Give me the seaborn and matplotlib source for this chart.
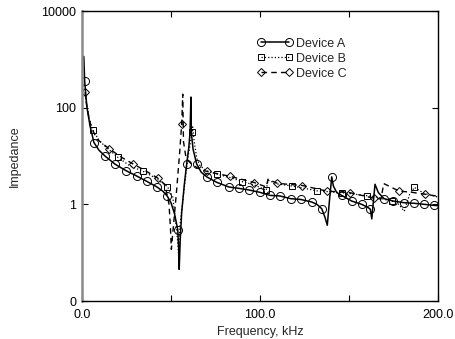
"""
Impedance vs frequency for three devices (log y axis).
"""
import matplotlib
matplotlib.use('Agg')
import matplotlib.pyplot as plt
from matplotlib.lines import Line2D
from matplotlib.ticker import FixedLocator, FixedFormatter
import seaborn as sns

# Device A (solid, circles)
freq_a = [1.0, 1.5, 2.7, 4.5, 6.7, 9.5, 12.9, 18.5, 24.6, 30.7, 36.3, 42.0, 45.5, 47.9,
          50.0, 52.0, 53.8, 54.3, 54.6, 55.2, 56.0, 57.5, 58.8, 60.0, 60.7, 61.2, 61.4,
          62.4, 64.4, 67.0, 70.1, 75.7, 82.6, 88.2, 93.8, 100.0, 105.6, 111.2, 117.2,
          122.9, 129.0, 132.0, 134.7, 136.5, 137.8, 139.0, 140.3, 141.2, 143.1, 145.9,
          151.5, 157.1, 160.5, 162.0, 162.8, 164.6, 166.5, 169.7, 174.9, 181.1, 186.7,
          192.3, 197.8, 200.0]
imp_a = [1150, 355, 107, 42, 19, 13.2, 10, 6.8, 5.0, 3.86, 3.0, 2.3, 1.86, 1.48,
         1.08, 0.63, 0.30, 0.12, 0.045, 0.19, 0.68, 2.6, 6.8, 15, 31, 166, 31,
         13.8, 6.9, 4.6, 3.7, 2.85, 2.28, 2.14, 1.98, 1.77, 1.53, 1.49, 1.31,
         1.26, 1.12, 1.0, 0.81, 0.54, 0.37, 1.17, 3.7, 2.4, 1.75, 1.53,
         1.17, 1.0, 0.87, 0.79, 0.50, 2.6, 1.75, 1.31, 1.17, 1.08, 1.05,
         1.0, 0.95, 0.94]
marks_a = [1.5, 6.7, 12.9, 18.5, 24.6, 30.7, 36.3, 42.0, 47.9, 53.8, 58.8, 64.4, 70.1,
           75.7, 82.6, 88.2, 93.8, 100.0, 105.6, 111.2, 117.2, 122.9, 129.0, 134.7,
           140.3, 145.9, 151.5, 157.1, 162.0, 169.7, 174.9, 181.1, 186.7, 192.3, 197.8]

# Device B (dotted, squares)
freq_b = [2.0, 4.0, 6.0, 10.0, 13.0, 20.0, 27.0, 34.0, 41.0, 48.0,
          51.0, 52.8, 53.9, 54.2, 55.0, 56.7, 59.3, 61.0, 62.0, 62.2,
          63.0, 64.5, 66.3, 69.7, 76.0, 83.0, 90.0, 97.0, 103.5, 104.5,
          110.0, 118.0, 125.0, 132.0, 139.0, 146.0, 153.0, 160.0, 166.0, 170.0,
          174.0, 178.0, 181.0, 184.0, 186.7, 192.0, 200.0]
imp_b = [158, 60, 34, 20.4, 15.8, 9.5, 6.2, 4.9, 3.55, 2.32,
         1.41, 0.39, 0.15, 0.10, 0.35, 1.26, 8.5, 20, 31.6, 40,
         20, 8.9, 6.3, 5.0, 4.2, 3.6, 2.95, 2.5, 1.95, 3.16,
         2.63, 2.4, 2.14, 1.9, 1.82, 1.74, 1.62, 1.51, 1.41, 1.26,
         1.17, 1.0, 0.72, 1.58, 2.24, 1.7, 1.41]
marks_b = [6.0, 20.0, 34.0, 48.0, 62.0, 76.0, 90.0, 103.5, 118.0, 132.0, 146.0,
           160.0, 174.0, 186.7]

# Device C (dashed, diamonds)
freq_c = [1.7, 3.0, 5.0, 8.3, 15.3, 22.0, 28.5, 35.5, 42.5, 46.6,
          48.9, 49.7, 50.2, 51.7, 53.2, 54.8, 56.0, 56.6, 57.0, 58.5,
          61.0, 65.0, 70.0, 83.1, 96.8, 103.5, 104.5, 109.7, 123.8, 137.5,
          150.6, 164.2, 168.0, 169.5, 178.1, 185.0, 192.5, 200.0]
imp_c = [209, 89, 42, 22.4, 14.1, 9.5, 6.9, 5.0, 3.5, 2.57,
         1.0, 0.32, 0.117, 0.49, 2.04, 11, 45.7, 190, 20, 8.9,
         7.1, 5.6, 4.8, 3.8, 2.82, 2.29, 3.31, 2.72, 2.45, 1.88,
         1.74, 1.33, 1.29, 2.69, 1.88, 1.78, 1.62, 1.47]
marks_c = [1.7, 15.3, 28.5, 42.5, 56.0, 70.0, 83.1, 96.8, 109.7, 123.8, 137.5,
           150.6, 164.2, 178.1, 192.5]

labels = ['Device A', 'Device B', 'Device C']
x_ticks = [0, 100, 200]
x_ticklabels = ['0.0', '100.0', '200.0']
y_ticks = [0.01, 1, 100, 10000]
y_ticklabels = ['0', '1', '100', '10000']

sns.set_style('ticks')
plt.rcParams['font.family'] = ['Liberation Sans', 'DejaVu Sans']
plt.rcParams['font.size'] = 9

STYLES = [
    dict(ls='-', lw=1.1, marker='o', ms=5.8),
    dict(ls=':', lw=0.9, marker='s', ms=4.3),
    dict(ls=(0, (4, 3)), lw=1.0, marker='D', ms=3.9),
]

fig = plt.figure(figsize=(4.55, 3.39), dpi=100)
ax = fig.add_axes([82 / 455, 1 - 301 / 339, 356 / 455, 290 / 339])

series = [(freq_a, imp_a, marks_a), (freq_b, imp_b, marks_b), (freq_c, imp_c, marks_c)]
handles = []
for (fx, fy, mk), lab, st in zip(series, labels, STYLES):
    idx = [fx.index(m) for m in mk]
    common = dict(color='black', linestyle=st['ls'], linewidth=st['lw'],
                  marker=st['marker'], markersize=st['ms'],
                  markerfacecolor='none', markeredgecolor='black',
                  markeredgewidth=0.7)
    sns.lineplot(x=fx, y=fy, ax=ax, sort=False, errorbar=None,
                 markevery=idx, legend=False, **common)
    handles.append(Line2D([], [], label=lab, **common))

ax.set_yscale('log')
ax.set_xlim(0, 200)
ax.set_ylim(0.01, 10000)
ax.xaxis.set_major_locator(FixedLocator(x_ticks))
ax.xaxis.set_major_formatter(FixedFormatter(x_ticklabels))
ax.xaxis.set_minor_locator(FixedLocator([50, 150]))
ax.yaxis.set_major_locator(FixedLocator(y_ticks))
ax.yaxis.set_major_formatter(FixedFormatter(y_ticklabels))
ax.yaxis.set_minor_locator(FixedLocator([]))
ax.tick_params(which='both', direction='in', length=4, width=0.8,
               top=True, right=True, labelsize=9, colors='black')
ax.tick_params(axis='x', pad=6)
ax.tick_params(axis='y', pad=4)

for side in ['top', 'right', 'bottom']:
    ax.spines[side].set_color('black')
    ax.spines[side].set_linewidth(1.0)
ax.spines['left'].set_color('#8a8a8a')
ax.spines['left'].set_linewidth(1.8)

ax.set_xlabel('Frequency, kHz', fontsize=9, labelpad=3)
ax.set_ylabel('Impedance', fontsize=9, labelpad=15)

ax.legend(handles=handles, loc='upper left', bbox_to_anchor=(0.475, 0.93),
          frameon=False, numpoints=2, handlelength=2.8, handletextpad=0.3,
          labelspacing=0.25, borderpad=0, fontsize=9)

fig.savefig('out.png', dpi=100)
